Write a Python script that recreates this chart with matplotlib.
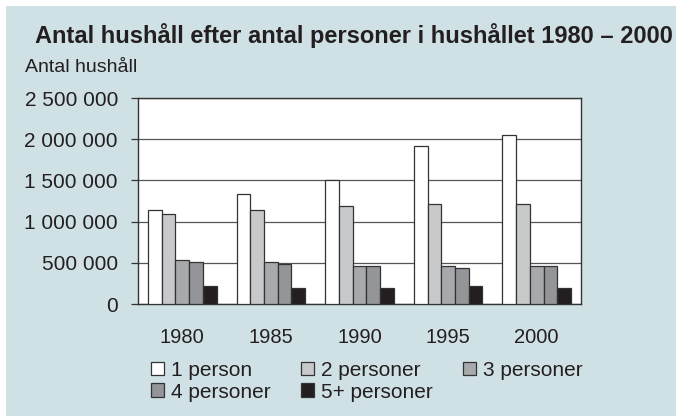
import matplotlib
matplotlib.use("Agg")
import matplotlib.pyplot as plt
from matplotlib.patches import Rectangle, Patch
from matplotlib.ticker import FuncFormatter
import numpy as np

plt.rcParams['font.family'] = ['Liberation Sans', 'DejaVu Sans']

years = ["1980", "1985", "1990", "1995", "2000"]
series_names = ["1 person", "2 personer", "3 personer", "4 personer", "5+ personer"]
p1 = [1140000, 1335000, 1510000, 1920000, 2050000]
p2 = [1095000, 1140000, 1190000, 1215000, 1215000]
p3 = [535000, 505000, 458000, 458000, 458000]
p4 = [505000, 488000, 458000, 435000, 458000]
p5 = [215000, 195000, 195000, 215000, 195000]
series = [p1, p2, p3, p4, p5]
colors = ["#ffffff", "#c8c9cb", "#a7a9ac", "#939598", "#231f20"]
yticks = [0, 500000, 1000000, 1500000, 2000000, 2500000]

W, H = 676, 416
fig = plt.figure(figsize=(W / 100, H / 100), dpi=100, facecolor="white")
bg = Rectangle((6 / W, 0), 1 - 6 / W, 1 - 6 / H, transform=fig.transFigure,
               facecolor="#d0e1e6", edgecolor="none", zorder=-10)
fig.patches.append(bg)

ax = fig.add_axes([138 / W, 1 - 304 / H, (581 - 138) / W, (304 - 98) / H])
ax.set_facecolor("white")

x = np.arange(len(years))
bw = 0.155
for i, (vals, c) in enumerate(zip(series, colors)):
    ax.bar(x + (i - 2) * bw, vals, width=bw, color=c, edgecolor="#333333",
           linewidth=0.9, zorder=3, label=series_names[i])

ax.set_xlim(-0.5, 4.5)
ax.set_ylim(0, 2500000)
ax.set_yticks(yticks)
ax.yaxis.set_major_formatter(FuncFormatter(lambda v, p: f"{int(v):,}".replace(",", " ")))
ax.yaxis.grid(True, color="#555555", linewidth=0.9, zorder=1)
ax.set_xticks(x)
ax.set_xticklabels(years)
ax.tick_params(axis="x", length=0, pad=17.5, labelsize=14.5, colors="#231f20")
ax.tick_params(axis="y", length=5, width=0.9, color="#333333", pad=9.4,
               labelsize=15, labelcolor="#231f20")
for s in ax.spines.values():
    s.set_color("#333333")
    s.set_linewidth(1.0)

fig.text(35 / W, 1 - 36 / H, "Antal hushåll efter antal personer i hushållet 1980 – 2000",
         fontsize=17, fontweight="bold", va="center", ha="left", color="#231f20")
fig.text(25 / W, 1 - 68 / H, "Antal hushåll", fontsize=14, va="center", ha="left",
         color="#231f20")

handles = [Patch(facecolor=c, edgecolor="#333333", linewidth=0.9) for c in colors]
order = [0, 3, 1, 4, 2]
leg = fig.legend([handles[i] for i in order], [series_names[i] for i in order],
                 ncol=3, loc="upper left", bbox_to_anchor=(151 / W, 1 - 361 / H),
                 frameon=False, fontsize=15, handlelength=0.62, handleheight=0.62,
                 handletextpad=0.34, columnspacing=1.45, labelspacing=0.12,
                 borderpad=0, borderaxespad=0)
for t in leg.get_texts():
    t.set_color("#231f20")

fig.savefig("out.png", dpi=100, facecolor=fig.get_facecolor())
